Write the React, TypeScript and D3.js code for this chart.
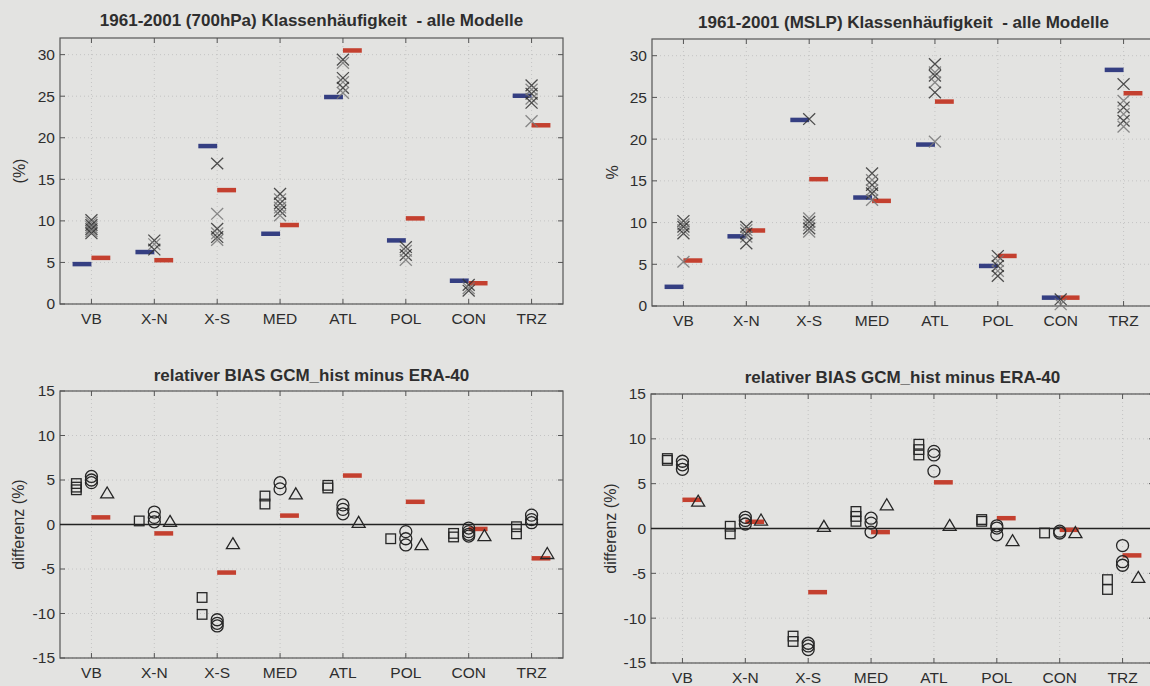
import React from 'react';
import * as d3 from 'd3';

// ---------- data ----------
const categories = ['VB', 'X-N', 'X-S', 'MED', 'ATL', 'POL', 'CON', 'TRZ'];
const freqTicks = [0, 5, 10, 15, 20, 25, 30];
const biasTicks = [-15, -10, -5, 0, 5, 10, 15];

// 700 hPa class frequency (%)
const era700 = [4.8, 6.25, 19.0, 8.45, 24.9, 7.65, 2.8, 25.05];
const gcmMean700 = [5.55, 5.27, 13.7, 9.5, 30.5, 10.3, 2.5, 21.5];
const models700 = [
  [10.1, 9.8, 9.5, 9.25, 9.0, 8.75, 8.5],
  [7.65, 7.2, 6.55],
  [16.9, 10.85, 9.05, 8.5, 8.05, 7.7],
  [13.25, 12.6, 12.1, 11.6, 11.2, 10.65],
  [29.4, 29.0, 27.2, 26.7, 26.0, 25.4],
  [6.85, 6.4, 5.9, 5.3],
  [2.3, 1.9, 1.6],
  [26.3, 25.8, 25.3, 24.7, 24.2, 22.0],
];

// MSLP class frequency (%)
const eraMslp = [2.3, 8.35, 22.3, 13.0, 19.35, 4.8, 1.0, 28.3];
const gcmMeanMslp = [5.45, 9.05, 15.2, 12.6, 24.5, 6.0, 1.0, 25.5];
const modelsMslp = [
  [10.2, 9.8, 9.5, 9.1, 8.7, 5.3],
  [9.5, 9.1, 8.7, 8.3, 7.5],
  [22.4, 10.5, 10.1, 9.7, 9.3, 8.9],
  [15.9, 15.1, 14.5, 13.9, 13.5, 12.7],
  [29.0, 28.0, 27.6, 26.8, 25.6, 19.7],
  [6.0, 5.4, 4.8, 4.2, 3.6],
  [0.8, 0.2],
  [26.6, 24.6, 23.8, 23.0, 22.2, 21.5],
];

// relative bias GCM_hist minus ERA-40 (700 hPa)
const bias700Squares = [[4.6, 4.2, 3.9], [0.4], [-8.2, -10.1], [3.2, 2.3], [4.4, 4.1], [-1.6], [-1.0, -1.4], [-0.25, -1.05]];
const bias700Circles = [[5.4, 5.0, 4.7], [1.4, 0.8, 0.3], [-10.7, -11.1, -11.4], [4.7, 4.0], [2.2, 1.7, 1.2], [-0.8, -1.6, -2.3], [-0.4, -0.8, -1.1, -1.3], [1.05, 0.55, 0.2]];
const bias700Triangles = [3.6, 0.4, -2.1, 3.5, 0.3, -2.2, -1.2, -3.2];
const bias700Mean = [0.8, -1.0, -5.4, 1.0, 5.5, 2.55, -0.5, -3.8];

// relative bias GCM_hist minus ERA-40 (MSLP)
const biasMslpSquares = [[7.8, 7.6], [0.25, -0.6], [-12.0, -12.6], [1.9, 1.35, 0.8], [9.4, 8.8, 8.2], [1.0, 0.8], [-0.5], [-5.7, -6.8]];
const biasMslpCircles = [[7.5, 7.1, 6.6], [1.25, 0.9, 0.5], [-12.8, -13.1, -13.5], [1.15, 0.6, -0.4], [8.6, 8.2, 6.4], [0.3, 0.05, -0.7], [-0.3, -0.5], [-1.9, -3.7, -4.1]];
const biasMslpTriangles = [3.1, 1.0, 0.3, 2.7, 0.4, -1.3, -0.4, -5.4];
const biasMslpMean = [3.2, 0.75, -7.1, -0.4, 5.15, 1.15, -0.15, -3.0];

// ---------- styling ----------
const BG = '#e3e3e1';
const TEXT = '#2e2e2e';
const FRAME = '#555';
const BLUE = '#353f82';
const RED = '#c4402f';
const FONT = '"Liberation Sans", Arial, sans-serif';

type Box = { left: number; right: number; top: number; bottom: number };

function Frame({ box, x, y, yTicks, title, ylabel, ylabelX, titleY }: {
  box: Box; x: d3.ScaleLinear<number, number>; y: d3.ScaleLinear<number, number>;
  yTicks: number[]; title: string; ylabel: string; ylabelX: number; titleY: number;
}) {
  const cx = (box.left + box.right) / 2;
  const cy = (box.top + box.bottom) / 2;
  return (
    <g>
      {yTicks.map((t) => (
        <line key={'gy' + t} x1={box.left} x2={box.right} y1={y(t)} y2={y(t)}
          stroke="#bdbdbd" strokeWidth={0.8} strokeDasharray="1,3" />
      ))}
      {categories.map((c, i) => (
        <line key={'gx' + c} x1={x(i + 1)} x2={x(i + 1)} y1={box.top} y2={box.bottom}
          stroke="#bdbdbd" strokeWidth={0.8} strokeDasharray="1,3" />
      ))}
      <rect x={box.left} y={box.top} width={box.right - box.left} height={box.bottom - box.top}
        fill="none" stroke={FRAME} strokeWidth={1.2} />
      {yTicks.map((t) => (
        <g key={'ty' + t}>
          <line x1={box.left} x2={box.left + 5} y1={y(t)} y2={y(t)} stroke={FRAME} strokeWidth={1} />
          <line x1={box.right} x2={box.right - 5} y1={y(t)} y2={y(t)} stroke={FRAME} strokeWidth={1} />
          <text x={box.left - 5} y={y(t)} dy="0.35em" textAnchor="end" fontSize={15.5} fill={TEXT}>{t}</text>
        </g>
      ))}
      {categories.map((c, i) => (
        <g key={'tx' + c}>
          <line x1={x(i + 1)} x2={x(i + 1)} y1={box.bottom} y2={box.bottom - 5} stroke={FRAME} strokeWidth={1} />
          <line x1={x(i + 1)} x2={x(i + 1)} y1={box.top} y2={box.top + 5} stroke={FRAME} strokeWidth={1} />
          <text x={x(i + 1)} y={box.bottom + 14.5} dy="0.35em" textAnchor="middle" fontSize={15.5} fill={TEXT}>{c}</text>
        </g>
      ))}
      <text x={cx} y={titleY} dy="0.35em" textAnchor="middle" fontSize={17} fontWeight="bold" fill={TEXT}
        style={{ whiteSpace: 'pre' }}>{title}</text>
      <text transform={`translate(${ylabelX},${cy}) rotate(-90)`} dy="0.35em" textAnchor="middle" fontSize={16} fill={TEXT}>{ylabel}</text>
    </g>
  );
}

function Cross({ cx, cy, dark }: { cx: number; cy: number; dark: boolean }) {
  const a = 6, b = 5.8;
  return (
    <path d={`M${cx - a},${cy - b}L${cx + a},${cy + b}M${cx - a},${cy + b}L${cx + a},${cy - b}`}
      stroke={dark ? '#333' : '#777'} strokeWidth={1.3} fill="none" opacity={0.85} />
  );
}

function Dash({ x, y, c0, v, color }: { x: d3.ScaleLinear<number, number>; y: d3.ScaleLinear<number, number>; c0: number; v: number; color: string }) {
  return <line x1={x(c0)} x2={x(c0 + 0.3)} y1={y(v)} y2={y(v)} stroke={color} strokeWidth={4.5} />;
}

function FreqPanel({ box, era, mean, models, title, ylabel, ylabelX, titleY }: {
  box: Box; era: number[]; mean: number[]; models: number[][]; title: string; ylabel: string; ylabelX: number; titleY: number;
}) {
  const x = d3.scaleLinear().domain([0.5, 8.5]).range([box.left, box.right]);
  const y = d3.scaleLinear().domain([0, 32]).range([box.bottom, box.top]);
  return (
    <g>
      <Frame box={box} x={x} y={y} yTicks={freqTicks} title={title} ylabel={ylabel} ylabelX={ylabelX} titleY={titleY} />
      {era.map((v, i) => <Dash key={'b' + i} x={x} y={y} c0={i + 1 - 0.3} v={v} color={BLUE} />)}
      {mean.map((v, i) => <Dash key={'r' + i} x={x} y={y} c0={i + 1} v={v} color={RED} />)}
      {models.map((vals, i) => vals.map((v, j) => (
        <Cross key={`x${i}-${j}`} cx={x(i + 1)} cy={y(v)} dark={j % 2 === 0} />
      )))}
    </g>
  );
}

function BiasPanel({ box, squares, circles, triangles, mean, title, ylabelX, titleY }: {
  box: Box; squares: number[][]; circles: number[][]; triangles: number[]; mean: number[]; title: string; ylabelX: number; titleY: number;
}) {
  const x = d3.scaleLinear().domain([0.5, 8.5]).range([box.left, box.right]);
  const y = d3.scaleLinear().domain([-15, 15]).range([box.bottom, box.top]);
  const sym = '#262626';
  const sq = 4.8, r = 6, tw = 6.5, th = 5.5;
  return (
    <g>
      <Frame box={box} x={x} y={y} yTicks={biasTicks} title={title} ylabel="differenz (%)" ylabelX={ylabelX} titleY={titleY} />
      <line x1={box.left} x2={box.right} y1={y(0)} y2={y(0)} stroke="#222" strokeWidth={1.6} />
      {mean.map((v, i) => <Dash key={'m' + i} x={x} y={y} c0={i + 1} v={v} color={RED} />)}
      {squares.map((vals, i) => vals.map((v, j) => (
        <rect key={`s${i}-${j}`} x={x(i + 1 - 0.24) - sq} y={y(v) - sq} width={2 * sq} height={2 * sq}
          fill="none" stroke={sym} strokeWidth={1.3} />
      )))}
      {circles.map((vals, i) => vals.map((v, j) => (
        <circle key={`c${i}-${j}`} cx={x(i + 1)} cy={y(v)} r={r} fill="none" stroke={sym} strokeWidth={1.3} />
      )))}
      {triangles.map((v, i) => {
        const cx = x(i + 1 + 0.25), cy = y(v);
        return <path key={'t' + i} d={`M${cx},${cy - th}L${cx + tw},${cy + th}L${cx - tw},${cy + th}Z`}
          fill="none" stroke={sym} strokeWidth={1.3} />;
      })}
    </g>
  );
}

export default function App() {
  return (
    <svg width={1150} height={686} style={{ position: 'absolute', left: 0, top: 0, fontFamily: FONT }}>
      <rect width={1150} height={686} fill={BG} />
      <FreqPanel box={{ left: 60, right: 563, top: 38, bottom: 304 }} era={era700} mean={gcmMean700} models={models700}
        title="1961-2001 (700hPa) Klassenhäufigkeit  - alle Modelle" ylabel="(%)" ylabelX={19} titleY={20} />
      <FreqPanel box={{ left: 652, right: 1155, top: 39, bottom: 306 }} era={eraMslp} mean={gcmMeanMslp} models={modelsMslp}
        title="1961-2001 (MSLP) Klassenhäufigkeit  - alle Modelle" ylabel="%" ylabelX={612} titleY={22} />
      <BiasPanel box={{ left: 60, right: 563, top: 391, bottom: 658 }} squares={bias700Squares} circles={bias700Circles}
        triangles={bias700Triangles} mean={bias700Mean} title="relativer BIAS GCM_hist minus ERA-40" ylabelX={18} titleY={375} />
      <BiasPanel box={{ left: 651, right: 1154, top: 394, bottom: 663 }} squares={biasMslpSquares} circles={biasMslpCircles}
        triangles={biasMslpTriangles} mean={biasMslpMean} title="relativer BIAS GCM_hist minus ERA-40" ylabelX={610} titleY={377} />
    </svg>
  );
}
